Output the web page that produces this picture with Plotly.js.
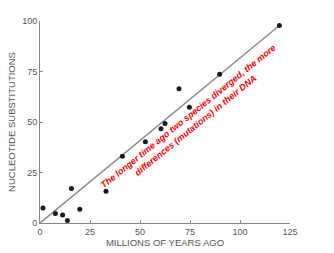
<!DOCTYPE html>
<html><head><meta charset="utf-8">
<script src="https://cdn.plot.ly/plotly-3.0.1.min.js"></script>
<style>html,body{margin:0;padding:0;background:#fff}#chart{width:334px;height:253px}</style>
</head><body><div id="chart"></div>
<script>
const millionsYearsAgo = [1.5, 7.7, 11.3, 13.7, 15.7, 19.9, 33, 41.2, 52.7, 60.5, 62.5, 69.5, 74.7, 89.8, 119.7];
const substitutions   = [7.4, 4.7, 4.0, 1.2, 17.1, 6.8, 15.7, 33.1, 40.2, 46.7, 49.2, 66.4, 57.3, 73.7, 97.8];
const fitX = [0, 120];
const fitY = [0, 98];
const xTicks = [0, 25, 50, 75, 100, 125];
const yTicks = [0, 25, 50, 75, 100];
const noteText = "The longer time ago two species diverged, the more<br>differences (mutations) in their DNA";

const font = "Liberation Sans, Arial, sans-serif";
const traces = [
  {x: fitX, y: fitY, mode: 'lines', line: {color: '#8a8a8a', width: 1.5}, hoverinfo: 'skip', showlegend: false},
  {x: millionsYearsAgo, y: substitutions, mode: 'markers', marker: {color: '#1a1a1a', size: 5}, showlegend: false}
];
const layout = {
  width: 334, height: 253,
  margin: {l: 40, r: 44, t: 21, b: 30, pad: 0},
  paper_bgcolor: '#fff', plot_bgcolor: '#fff',
  font: {family: font, color: '#555', size: 9},
  xaxis: {
    range: [0, 125], tickvals: xTicks, ticktext: xTicks.map(String),
    showgrid: false, zeroline: false, showline: true, linecolor: '#888', linewidth: 1,
    ticks: 'inside', ticklen: 3, tickcolor: '#888',
    tickfont: {size: 9, color: '#555'},
    title: {text: 'MILLIONS OF YEARS AGO', font: {size: 9.5, color: '#555'}, standoff: 2}
  },
  yaxis: {
    range: [0, 100], tickvals: yTicks, ticktext: yTicks.map(String),
    showgrid: false, zeroline: false, showline: true, linecolor: '#888', linewidth: 1,
    ticks: 'inside', ticklen: 3, tickcolor: '#888',
    tickfont: {size: 9, color: '#555'},
    title: {text: 'NUCLEOTIDE SUBSTITUTIONS', font: {size: 9.5, color: '#555'}, standoff: 4}
  },
  annotations: [{
    x: 76, y: 50.5, xref: 'x', yref: 'y', showarrow: false,
    text: '<b><i>' + noteText + '</i></b>', textangle: -39, align: 'center',
    font: {family: font, size: 9, color: '#ff0000'}
  }]
};
Plotly.newPlot('chart', traces, layout, {displayModeBar: false, staticPlot: true});
</script></body></html>
